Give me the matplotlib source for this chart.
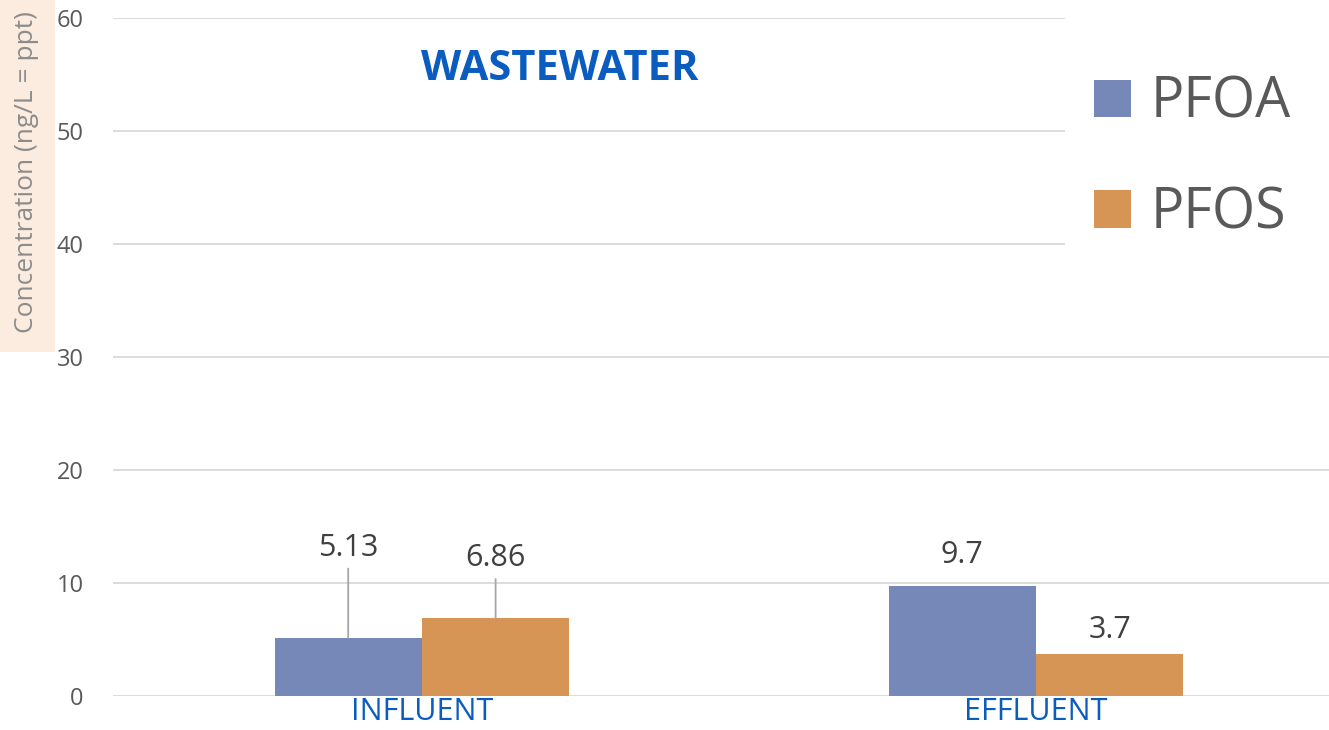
import numpy as np
import matplotlib.pyplot as plt
from matplotlib.patches import Rectangle

# data
categories = ["INFLUENT", "EFFLUENT"]
pfoa = [5.13, 9.7]
pfos = [6.86, 3.7]
pfoa_labels = ["5.13", "9.7"]
pfos_labels = ["6.86", "3.7"]
yticks = [0, 10, 20, 30, 40, 50, 60]

blue = "#7588b8"
orange = "#d79555"
grey = "#595959"
title_blue = "#0b5cbf"

fig = plt.figure(figsize=(13.29, 7.30), dpi=100)
W, H = 1329, 730
ax = fig.add_axes([113 / W, 1 - 696 / H, (W - 113) / W, (696 - 18) / H])

x = np.arange(len(categories))
w = 0.24
b1 = ax.bar(x - w / 2, pfoa, w, color=blue, label="PFOA", zorder=3)
b2 = ax.bar(x + w / 2, pfos, w, color=orange, label="PFOS", zorder=3)

ax.set_xlim(-0.503, 1.477)
ax.set_ylim(0, 60)
ax.set_yticks(yticks)
ax.yaxis.grid(True, color="#d9d9d9", linewidth=1.3, zorder=0)
ax.set_axisbelow(True)
for s in ax.spines.values():
    s.set_visible(False)
ax.tick_params(axis="y", length=0, labelsize=17, labelcolor=grey, pad=21)
ax.set_xticks(x)
ax.set_xticklabels(categories, fontsize=22, color=title_blue, family="Open Sans")
ax.tick_params(axis="x", length=0, pad=1)
for lab in ax.get_yticklabels():
    lab.set_family("Open Sans")

# data labels, some with leader lines (offsets in pixels)
offsets_a = [90, 31]
offsets_b = [60, 24]
leader_a = [True, False]
leader_b = [True, False]
for bars, labels, offs, lead in [(b1, pfoa_labels, offsets_a, leader_a),
                                 (b2, pfos_labels, offsets_b, leader_b)]:
    for bar, lab, off, ld in zip(bars, labels, offs, lead):
        xc = bar.get_x() + bar.get_width() / 2
        h = bar.get_height()
        props = dict(arrowstyle="-", color="#a6a6a6", lw=1.3, shrinkA=2, shrinkB=0) if ld else None
        ax.annotate(lab, xy=(xc, h), xytext=(0, off), textcoords="offset pixels",
                    ha="center", va="center", fontsize=22, color="#404040",
                    family="Open Sans", arrowprops=props, zorder=4)

# title
fig.text(560 / W, 1 - 69 / H, "WASTEWATER", ha="center", va="center",
         fontsize=30, fontweight="bold", color=title_blue, family="Open Sans")

# y label with peach background
fig.patches.append(Rectangle((0, 1 - 352 / H), 55 / W, 352 / H,
                             transform=fig.transFigure, facecolor="#fcece0",
                             edgecolor="none", zorder=1))
fig.text(27 / W, 1 - 172 / H, "Concentration (ng/L = ppt)", rotation=90,
         ha="center", va="center", fontsize=19, color="#8c8c8c", family="Open Sans")

# legend area covers the top right gridlines
fig.patches.append(Rectangle((1065 / W, 1 - 262 / H), (W - 1065) / W, 262 / H,
                             transform=fig.transFigure, facecolor="white",
                             edgecolor="none", zorder=5))
leg = fig.legend(handles=[b1, b2], loc="upper left",
                 bbox_to_anchor=(1094 / W, 1 - 75 / H), frameon=False,
                 prop={"family": "Open Sans", "size": 40}, labelcolor=grey,
                 handlelength=0.67, handleheight=0.67, handletextpad=0.35,
                 labelspacing=0.96, borderpad=0, borderaxespad=0)
leg.set_zorder(6)

fig.savefig("out.png", dpi=100)
